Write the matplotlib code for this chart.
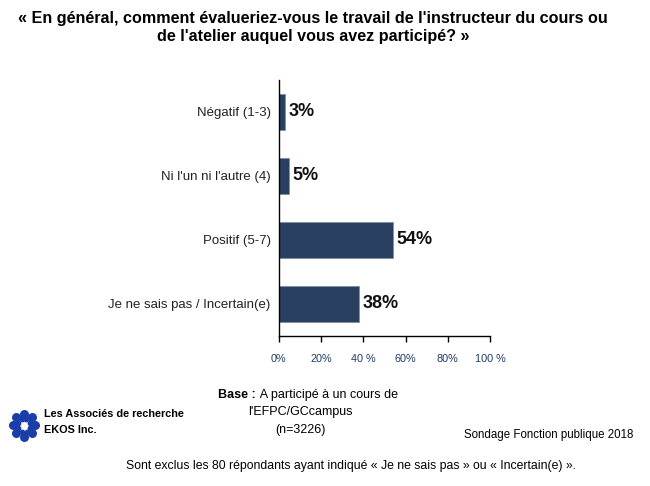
import matplotlib
matplotlib.use('Agg')
import matplotlib.pyplot as plt
import numpy as np

plt.rcParams['font.family'] = ['Liberation Sans', 'DejaVu Sans']

# données
categories = ['Négatif (1-3)', "Ni l'un ni l'autre (4)", 'Positif (5-7)',
              'Je ne sais pas / Incertain(e)']
values = [3, 5, 54, 38]
xticks = [0, 20, 40, 60, 80, 100]
xtick_labels = ['0%', '20%', '40 %', '60%', '80%', '100 %']

bar_color = '#2A4060'

fig = plt.figure(figsize=(6.5, 4.86), dpi=100)
ax = fig.add_axes([0.429, 0.309, 0.325, 0.527])

y = np.arange(len(categories))
ax.barh(y, values, height=0.56, color=bar_color, edgecolor='#8090A8', linewidth=0.6)
for yi, v in zip(y, values):
    ax.text(v + 1.5, yi, f'{v}%', va='center', ha='left',
            fontsize=13, fontweight='bold', color='#111111')

ax.set_ylim(len(categories) - 0.5, -0.5)
ax.set_xlim(0, 100)
ax.set_yticks(y)
ax.set_yticklabels(categories, fontsize=9.5, color='#222222')
ax.tick_params(axis='y', length=0, pad=6)
ax.set_xticks(xticks)
ax.set_xticklabels(xtick_labels, fontsize=7.8, color='#1F3A68')
ax.tick_params(axis='x', direction='out', length=4, width=1, pad=9)
for s in ['top', 'right']:
    ax.spines[s].set_visible(False)
ax.spines['left'].set_linewidth(1)
ax.spines['bottom'].set_linewidth(1)

# titre
fig.text(0.482, 0.978, "« En général, comment évalueriez-vous le travail de l'instructeur du cours ou\n"
         "de l'atelier auquel vous avez participé? »",
         ha='center', va='top', fontsize=11.6, fontweight='bold', linespacing=1.3)

# notes du bas
fig.text(0.394, 0.187, 'Base :', ha='right', va='center', fontsize=9, fontweight='bold')
fig.text(0.396, 0.187, ' A participé à un cours de', ha='left', va='center', fontsize=9)
fig.text(0.462, 0.152, "l'EFPC/GCcampus", ha='center', va='center', fontsize=9)
fig.text(0.462, 0.115, '(n=3226)', ha='center', va='center', fontsize=9)
fig.text(0.068, 0.148, 'Les Associés de recherche', ha='left', va='center',
         fontsize=7.8, fontweight='bold')
fig.text(0.068, 0.116, 'EKOS Inc.', ha='left', va='center', fontsize=7.8, fontweight='bold')
fig.text(0.974, 0.105, 'Sondage Fonction publique 2018', ha='right', va='center', fontsize=8.3)
fig.text(0.54, 0.042, 'Sont exclus les 80 répondants ayant indiqué « Je ne sais pas » ou « Incertain(e) ».',
         ha='center', va='center', fontsize=8.8)

# logo simplifié
lax = fig.add_axes([0.012, 0.09, 0.05, 0.07])
ang = np.linspace(0, 2 * np.pi, 8, endpoint=False)
lax.scatter(np.cos(ang), np.sin(ang), s=30, color='#1A3DA8')
lax.scatter(0.6 * np.cos(ang + 0.4), 0.6 * np.sin(ang + 0.4), s=10, color='#1A3DA8')
lax.set_xlim(-1.5, 1.5)
lax.set_ylim(-1.5, 1.5)
lax.axis('off')

plt.savefig('out.png', dpi=100)
plt.close()
